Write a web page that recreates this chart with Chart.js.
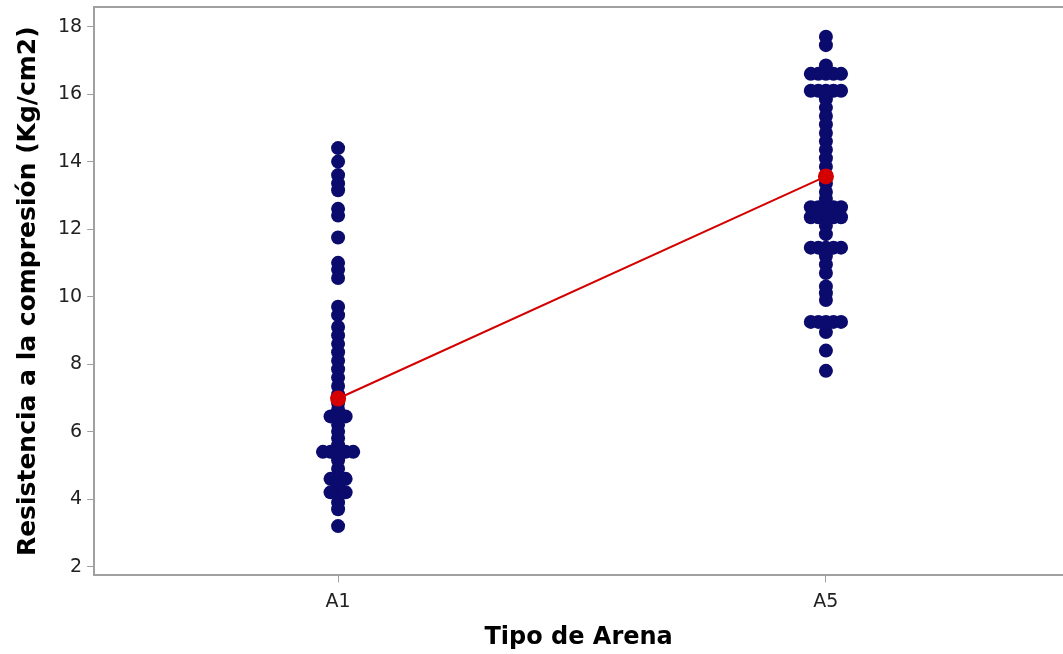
<!DOCTYPE html>
<html>
<head>
<meta charset="utf-8">
<script src="https://cdn.jsdelivr.net/npm/chart.js@4"></script>
<style>
  html, body { margin: 0; padding: 0; background: #fff; }
  #wrap { width: 1063px; height: 654px; }
</style>
</head>
<body>
<div id="wrap"><canvas id="myChart"></canvas></div>
<script>
const categories = ["A1", "A5"];
const valuesA1 = [14.4, 14.0, 13.6, 13.35, 13.15, 12.6, 12.4, 11.75, 11.0, 10.8, 10.55,
    9.7, 9.45, 9.1, 8.85, 8.6, 8.35, 8.1, 7.85, 7.6, 7.35, 7.1, 6.85, 6.65,
    6.45, 6.45, 6.45, 6.2, 6.0, 5.8, 5.6, 5.4, 5.4, 5.4, 5.4, 5.4, 5.15, 4.9,
    4.6, 4.6, 4.6, 4.4, 4.2, 4.2, 4.2, 3.9, 3.7, 3.2];
const valuesA5 = [17.7, 17.45, 16.85, 16.6, 16.6, 16.6, 16.6, 16.6, 16.1, 16.1, 16.1, 16.1, 16.1,
    15.85, 15.6, 15.35, 15.1, 14.85, 14.6, 14.35, 14.1, 13.85, 13.6, 13.35, 13.1, 12.9,
    12.65, 12.65, 12.65, 12.65, 12.65, 12.35, 12.35, 12.35, 12.35, 12.35, 12.1, 11.85,
    11.45, 11.45, 11.45, 11.45, 11.45, 11.2, 10.95, 10.7, 10.3, 10.1, 9.9,
    9.25, 9.25, 9.25, 9.25, 9.25, 8.95, 8.4, 7.8];
const means = [6.98, 13.56];
const yTicks = [2, 4, 6, 8, 10, 12, 14, 16, 18];

// spread repeated values sideways so they stay visible
function spread(values, pos) {
    const seen = {};
    const step = 0.0155;
    return values.map(function (v) {
        const k = seen[v] || 0;
        seen[v] = k + 1;
        const side = k === 0 ? 0 : (k % 2 === 1 ? 1 : -1) * Math.ceil(k / 2);
        return { x: pos + side * step, y: v };
    });
}

const points = spread(valuesA1, 1).concat(spread(valuesA5, 2));
const meanPoints = means.map((m, i) => ({ x: i + 1, y: m }));

const frameTop = {
    id: "frameTop",
    afterDraw(chart) {
        const { ctx, chartArea } = chart;
        ctx.save();
        ctx.strokeStyle = "#a0a0a0";
        ctx.lineWidth = 2;
        ctx.beginPath();
        ctx.moveTo(chartArea.left - 1, chartArea.top);
        ctx.lineTo(chartArea.right, chartArea.top);
        ctx.stroke();
        ctx.restore();
    }
};

const ctx = document.getElementById("myChart").getContext("2d");
new Chart(ctx, {
    type: "scatter",
    data: {
        datasets: [
            {
                label: "Media",
                data: meanPoints,
                showLine: true,
                borderColor: "#d40000",
                borderWidth: 2,
                backgroundColor: "#d40000",
                pointRadius: 8,
                pointBorderWidth: 0,
            },
            {
                label: "Datos",
                data: points,
                backgroundColor: "#0b0b6e",
                borderColor: "#0b0b6e",
                pointRadius: 7,
                pointBorderWidth: 0,
            },
        ],
    },
    options: {
        responsive: true,
        maintainAspectRatio: false,
        animation: false,
        layout: { autoPadding: false, padding: { top: 7, right: 0, left: 10, bottom: 2 } },
        plugins: {
            legend: { display: false },
            tooltip: { enabled: false },
        },
        scales: {
            x: {
                type: "linear",
                min: 0.5,
                max: 2.486,
                afterBuildTicks: (axis) => { axis.ticks = [{ value: 1 }, { value: 2 }]; },
                ticks: {
                    callback: (value) => categories[value - 1],
                    color: "#222",
                    font: { family: "DejaVu Sans", size: 19 },
                    padding: 8,
                },
                grid: { drawOnChartArea: false, color: "#a0a0a0", tickLength: 7 },
                border: { color: "#a0a0a0", width: 2 },
                title: {
                    display: true,
                    text: "Tipo de Arena",
                    color: "#000",
                    font: { family: "DejaVu Sans", size: 24, weight: "bold" },
                    padding: { top: 2, bottom: 0 },
                },
            },
            y: {
                min: 1.74,
                max: 18.58,
                afterBuildTicks: (axis) => { axis.ticks = yTicks.map((v) => ({ value: v })); },
                ticks: {
                    color: "#222",
                    font: { family: "DejaVu Sans", size: 19, lineHeight: 0.2 },
                    padding: 5,
                },
                grid: { drawOnChartArea: false, color: "#a0a0a0", tickLength: 7 },
                border: { color: "#a0a0a0", width: 2 },
                title: {
                    display: true,
                    text: "Resistencia a la compresión (Kg/cm2)",
                    color: "#000",
                    font: { family: "DejaVu Sans", size: 25, weight: "bold" },
                    padding: { top: 3, bottom: 10 },
                },
            },
        },
    },
    plugins: [frameTop],
});
</script>
</body>
</html>
